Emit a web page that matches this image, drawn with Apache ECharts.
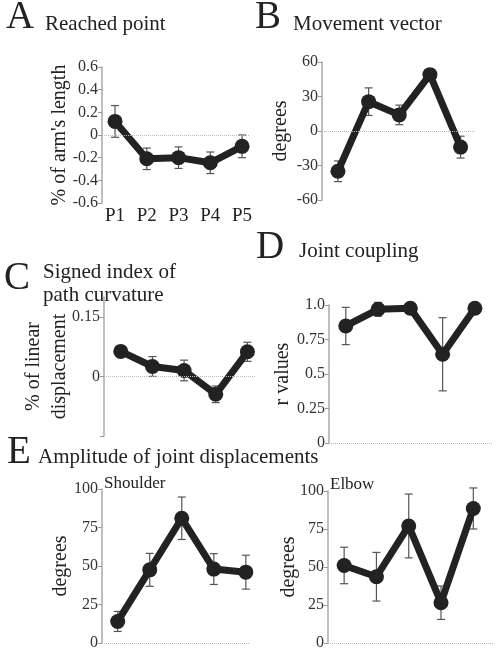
<!DOCTYPE html>
<html><head><meta charset="utf-8">
<script src="https://cdn.jsdelivr.net/npm/echarts@6/dist/echarts.min.js"></script>
<style>html,body{margin:0;padding:0;background:#fff}#c{width:498px;height:653px}</style>
</head><body><div id="c"></div>
<script>
const categories = ['P1','P2','P3','P4','P5'];
const reachedMean = [0.12, -0.21, -0.2, -0.245, -0.1];
const reachedErr  = [0.14, 0.095, 0.095, 0.095, 0.1];
const vectorMean  = [-35, 25.5, 14, 49, -14];
const vectorErr   = [9, 12, 8.5, 4, 9.5];
const curvMean    = [0.063, 0.025, 0.015, -0.045, 0.062];
const curvErr     = [0.011, 0.025, 0.026, 0.021, 0.024];
const couplingMean= [0.848, 0.969, 0.976, 0.643, 0.976];
const couplingErr = [0.135, 0.05, 0.01, 0.265, 0.01];
const shoulderMean= [14, 47.5, 81, 48, 46];
const shoulderErr = [6.5, 10.7, 13.8, 10, 11];
const elbowMean   = [51, 43.6, 77, 26.5, 88.5];
const elbowErr    = [12, 16, 21, 11, 13.5];

const FONT = 'Liberation Serif';
const chart = echarts.init(document.getElementById('c'), null, {renderer:'canvas'});

const panels = [
  {mean:reachedMean, err:reachedErr, grid:{left:102,top:67,width:148,height:136}, x:[0.59,5.25],
   y:{min:-0.6,max:0.6,interval:0.2}, name:"% of arm's length", nameGap:30, xlabels:true,
   fmt:v=>String(Math.round(v*10)/10)},
  {mean:vectorMean, err:vectorErr, grid:{left:322,top:62,width:153,height:138}, x:[0.48,5.47],
   y:{min:-60,max:60,interval:30}, name:'degrees', nameGap:29},
  {mean:curvMean, err:curvErr, grid:{left:104,top:297,width:151,height:139}, x:[0.47,5.24],
   y:{min:-0.15,max:0.2,interval:0.15}, name:'% of linear\ndisplacement', nameGap:31, lh:26,
   labelValues:[0,0.15], tickValues:[-0.15,0,0.15]},
  {mean:couplingMean, err:couplingErr, grid:{left:329,top:305,width:164,height:138}, x:[0.48,5.56],
   y:{min:0,max:1,interval:0.25}, name:'r values', nameGap:34, fmt:v=>v===1?'1.0':String(v)},
  {mean:shoulderMean, err:shoulderErr, grid:{left:102,top:489,width:148,height:154}, x:[0.51,5.13],
   y:{min:0,max:100,interval:25}, name:'degrees', nameGap:29},
  {mean:elbowMean, err:elbowErr, grid:{left:328,top:491,width:165,height:152}, x:[0.5,5.61],
   y:{min:0,max:100,interval:25}, name:'degrees', nameGap:27}
];

const grid=[], xAxis=[], yAxis=[], series=[];
panels.forEach((p,i)=>{
  grid.push(Object.assign({containLabel:false}, p.grid));
  xAxis.push({type:'value', gridIndex:i, min:p.x[0], max:p.x[1],
    axisLine:{show:false}, axisTick:{show:false}, splitLine:{show:false},
    axisLabel: p.xlabels ? {show:true, customValues:[1,2,3,4,5], formatter:v=>categories[Math.round(v)-1],
      fontFamily:FONT, fontSize:19, color:'#222', margin:4} : {show:false}});
  const yl = {fontFamily:FONT, fontSize:16, color:'#333', margin:4};
  if (p.fmt) yl.formatter = p.fmt;
  if (p.labelValues) yl.customValues = p.labelValues;
  const yt = {show:true, length:4, inside:false, lineStyle:{color:'#999', width:1}};
  if (p.tickValues) yt.customValues = p.tickValues;
  yAxis.push({type:'value', gridIndex:i, min:p.y.min, max:p.y.max, interval:p.y.interval,
    axisLine:{show:true, lineStyle:{color:'#aaa', width:1.5}}, axisTick:yt, axisLabel:yl,
    splitLine:{show:false}, name:p.name, nameLocation:'middle', nameGap:p.nameGap, nameRotate:90,
    nameMoveOverlap:false,
    nameTextStyle:{fontFamily:FONT, fontSize:20, color:'#222', lineHeight:p.lh||24}});
  const pts = p.mean.map((m,k)=>[k+1, m]);
  const ebs = p.mean.map((m,k)=>[k+1, m, p.err[k]]);
  series.push({type:'custom', xAxisIndex:i, yAxisIndex:i, z:1, silent:true,
    data: ebs,
    renderItem:(params, api)=>{
      const x=api.value(0), m=api.value(1), e=api.value(2);
      const top=api.coord([x,m+e]), bot=api.coord([x,m-e]);
      const w=4, st={stroke:'#555', lineWidth:1.2};
      return {type:'group', children:[
        {type:'line', shape:{x1:top[0],y1:top[1],x2:bot[0],y2:bot[1]}, style:st},
        {type:'line', shape:{x1:top[0]-w,y1:top[1],x2:top[0]+w,y2:top[1]}, style:st},
        {type:'line', shape:{x1:bot[0]-w,y1:bot[1],x2:bot[0]+w,y2:bot[1]}, style:st}
      ]};
    }});
  series.push({type:'line', xAxisIndex:i, yAxisIndex:i, z:2, data:pts, symbol:'circle', symbolSize:15,
    lineStyle:{color:'#222', width:7}, itemStyle:{color:'#222'}, silent:true, animation:false,
    markLine:{silent:true, symbol:'none', label:{show:false}, animation:false,
      lineStyle:{type:'dotted', color:'#bbb', width:1}, data:[{yAxis:0}]}});
});

function txt(x,y,t,size){return {type:'text', x:x, y:y, silent:true,
  style:{text:t, font:size+'px "Liberation Serif"', fill:'#222', verticalAlign:'middle', align:'left'}};}

chart.setOption({
  animation:false,
  grid, xAxis, yAxis, series,
  graphic:[
    txt(6,18,'A',39), txt(45,24,'Reached point',21),
    txt(255,18,'B',39), txt(293,24,'Movement vector',21),
    txt(4,279,'C',39), txt(43,272,'Signed index of',21), txt(43,295,'path curvature',21),
    txt(256,248,'D',39), txt(299,251,'Joint coupling',21),
    txt(7,453,'E',39), txt(38,457,'Amplitude of joint displacements',21),
    txt(104,484,'Shoulder',17), txt(330,485,'Elbow',17)
  ]
});
</script></body></html>
